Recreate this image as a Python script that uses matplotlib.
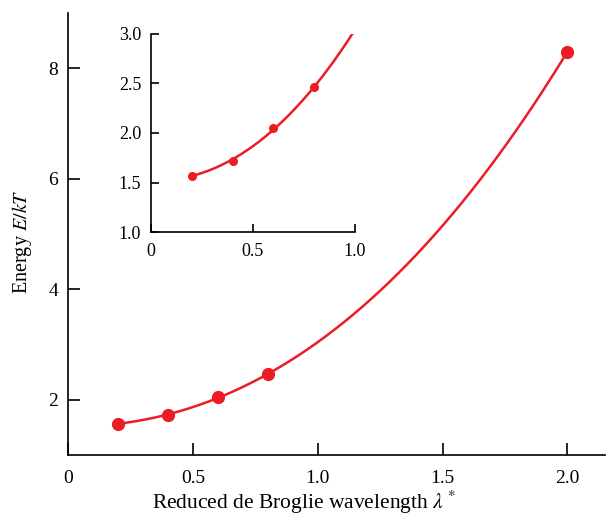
import matplotlib
matplotlib.use("Agg")
import matplotlib.pyplot as plt
import numpy as np

# data
lam = [0.2, 0.4, 0.6, 0.8, 2.0]
energy = [1.57, 1.72, 2.05, 2.46, 8.30]

plt.rcParams["font.family"] = ["Liberation Serif", "DejaVu Serif"]
plt.rcParams["mathtext.fontset"] = "stix"

red = "#ec1c24"
coef = np.polyfit(lam, energy, 3)


def style(ax, tick_len, size, pad):
    for side in ("top", "right"):
        ax.spines[side].set_visible(False)
    for side in ("left", "bottom"):
        ax.spines[side].set_linewidth(1.2)
    ax.tick_params(direction="in", length=tick_len, width=1.2, labelsize=size)
    ax.tick_params(axis="x", pad=pad)
    ax.tick_params(axis="y", pad=7)


fig = plt.figure(figsize=(6.1, 5.15), dpi=100)

ax = fig.add_axes([0.1115, 0.1165, 0.880, 0.858])
xs = np.linspace(lam[0], lam[-1], 200)
ax.plot(xs, np.polyval(coef, xs), color=red, lw=1.8)
ax.plot(lam, energy, "o", color=red, ms=8.5)
ax.set_xlim(0, 2.15)
ax.set_ylim(1, 9)
ax.set_xticks([0, 0.5, 1.0, 1.5, 2.0], ["0", "0.5", "1.0", "1.5", "2.0"])
ax.set_yticks([2, 4, 6, 8])
ax.set_xlabel(r"Reduced de Broglie wavelength $\lambda^*$", fontsize=15.5)
ax.set_ylabel(r"Energy $E/kT$", fontsize=14.5)
ax.xaxis.set_label_coords(0.4386, -0.077)
ax.yaxis.set_label_coords(-0.063, 0.482)
style(ax, 8.5, 14, 11)

ins = fig.add_axes([0.2475, 0.5495, 0.3344, 0.3845])
xi = np.linspace(lam[0], 1.1, 200)
ins.plot(xi, np.polyval(coef, xi), color=red, lw=1.8)
ins.plot(lam[:4], energy[:4], "o", color=red, ms=5.5)
ins.set_xlim(0, 1.0)
ins.set_ylim(1, 3)
ins.set_xticks([0, 0.5, 1.0], ["0", "0.5", "1.0"])
ins.set_yticks([1.0, 1.5, 2.0, 2.5, 3.0])
ins.yaxis.set_major_formatter(matplotlib.ticker.FormatStrFormatter("%.1f"))
style(ins, 6, 13, 8)

fig.savefig("out.png", dpi=100)
